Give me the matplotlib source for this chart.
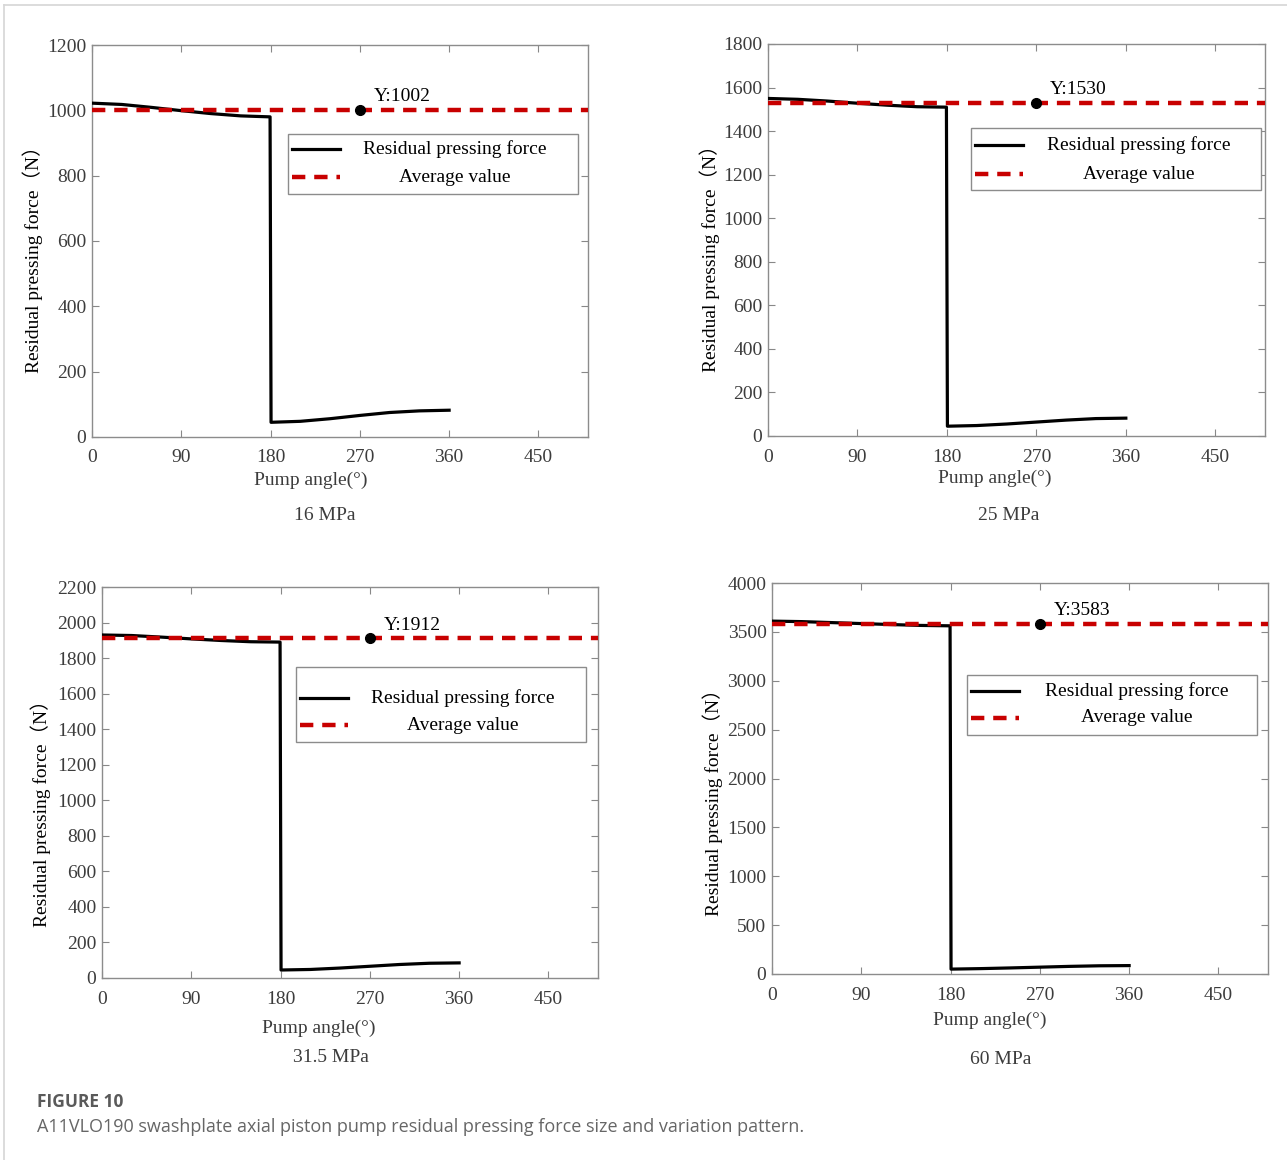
import matplotlib.pyplot as plt
from matplotlib.lines import Line2D
from matplotlib.patches import Rectangle

# pump angle samples (deg) shared by all four pressure cases
angle = [0, 30, 60, 90, 120, 150, 179.5, 180.5, 210, 240, 270, 300, 330, 360]

force_16 = [1022, 1018, 1009, 999, 990, 983, 980, 45, 48, 56, 66, 75, 80, 82]
force_25 = [1550, 1546, 1538, 1528, 1519, 1512, 1510, 45, 48, 55, 64, 73, 80, 82]
force_315 = [1930, 1927, 1918, 1908, 1899, 1892, 1890, 45, 48, 56, 66, 76, 83, 85]
force_60 = [3610, 3605, 3595, 3585, 3575, 3566, 3562, 50, 55, 62, 70, 78, 84, 86]

avg_vals = [1002, 1530, 1912, 3583]
pressures = ["16 MPa", "25 MPa", "31.5 MPa", "60 MPa"]
y_max = [1200, 1800, 2200, 4000]
y_step = [200, 200, 200, 500]
x_ticks = [0, 90, 180, 270, 360, 450]

SERIF = ["Liberation Serif", "Noto Sans CJK SC"]
plt.rcParams["font.family"] = SERIF

W, H = 1287, 1160
fig = plt.figure(figsize=(W / 100, H / 100), dpi=100)

FS = 14
RED = "#c80000"
GRAY_TXT = "#3c3c3c"

# axes boxes in pixels: left, top, right, bottom
boxes = [(92, 45, 588, 437), (768, 44, 1265, 436),
         (102, 587, 598, 978), (772, 583, 1268, 974)]
# legend layout in axes fractions: x0, x1, y0, y1, row1, row2, line x0, line x1, text x
legends = [(0.395, 0.980, 0.620, 0.773, 0.735, 0.663, 0.403, 0.500, 0.732),
           (0.408, 0.992, 0.628, 0.786, 0.742, 0.668, 0.416, 0.513, 0.746),
           (0.391, 0.976, 0.604, 0.795, 0.716, 0.647, 0.399, 0.496, 0.728),
           (0.393, 0.978, 0.611, 0.765, 0.724, 0.655, 0.401, 0.498, 0.736)]
# text anchors in pixels (x, y centre)
xlabel_pos = [(311, 480), (995, 478), (319, 1028), (990, 1020)]
sub_pos = [(325, 515), (1009, 515), (331, 1057), (1001, 1059)]
ylabel_pos = [(33, 255), (710, 254), (41, 809), (713, 798)]

series = [force_16, force_25, force_315, force_60]


def px(x, y):
    return x / W, 1 - y / H


for i in range(4):
    l, t, r, b = boxes[i]
    ax = fig.add_axes([l / W, 1 - b / H, (r - l) / W, (b - t) / H])
    ax.plot(angle, series[i], color="black", lw=2.3, zorder=3)
    ax.axhline(avg_vals[i], color=RED, lw=3.2, dashes=(3, 2), zorder=4)
    ax.plot([270], [avg_vals[i]], "o", color="black", ms=7, zorder=5)
    ax.annotate("Y:%d" % avg_vals[i], (270, avg_vals[i]), xytext=(10, 6),
                textcoords="offset points", fontsize=FS, color="black")

    ax.set_xlim(0, 500)
    ax.set_ylim(0, y_max[i])
    ax.set_xticks(x_ticks)
    ax.set_yticks(range(0, y_max[i] + 1, y_step[i]))
    ax.tick_params(direction="in", length=5, top=True, right=True, color="#888888",
                   labelsize=FS, labelcolor=GRAY_TXT)
    ax.tick_params(axis="x", pad=9)
    ax.tick_params(axis="y", pad=4)
    for s in ax.spines.values():
        s.set_color("#8c8c8c")
        s.set_linewidth(1.0)

    fig.text(*px(*xlabel_pos[i]), "Pump angle(°)", ha="center", va="center",
             fontsize=FS, color=GRAY_TXT)
    fig.text(*px(*ylabel_pos[i]), "Residual pressing force（N）", rotation=90,
             ha="center", va="center", fontsize=FS, color="black")
    fig.text(*px(*sub_pos[i]), pressures[i], ha="center", va="center",
             fontsize=FS, color=GRAY_TXT)

    # boxed legend with centred labels
    x0, x1, y0, y1, r1, r2, lx0, lx1, tx = legends[i]
    ax.add_patch(Rectangle((x0, y0), x1 - x0, y1 - y0, transform=ax.transAxes,
                           facecolor="white", edgecolor="#8c8c8c", lw=1.0, zorder=6))
    ax.add_line(Line2D([lx0, lx1], [r1, r1], transform=ax.transAxes, color="black",
                       lw=2.3, zorder=7))
    ax.add_line(Line2D([lx0, lx1], [r2, r2], transform=ax.transAxes, color=RED,
                       lw=3.2, dashes=(3, 2), zorder=7))
    ax.text(tx, r1, "Residual pressing force", transform=ax.transAxes, ha="center",
            va="center", fontsize=FS, zorder=8)
    ax.text(tx, r2, "Average value", transform=ax.transAxes, ha="center",
            va="center", fontsize=FS, zorder=8)

# page frame and caption
fig.add_artist(Line2D([4 / W, 1.0], [1 - 5 / H, 1 - 5 / H], color="#d6d6d6", lw=1.2))
fig.add_artist(Line2D([4 / W, 4 / W], [0, 1 - 5 / H], color="#d6d6d6", lw=1.2))
fig.text(*px(37, 1102), "FIGURE 10", fontsize=12.5, fontweight="bold",
         family="Open Sans", color="#5a5a5a", va="center")
fig.text(*px(37, 1127),
         "A11VLO190 swashplate axial piston pump residual pressing force size and variation pattern.",
         fontsize=13, family="Open Sans", color="#666666", va="center")

fig.savefig("out.png", dpi=100, facecolor="white")
